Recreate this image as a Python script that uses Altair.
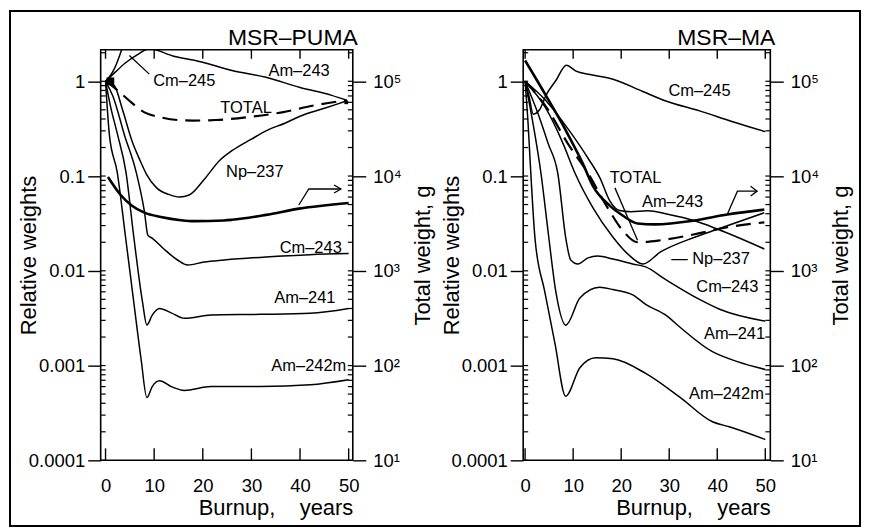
import altair as alt
import pandas as pd

FONT = "Liberation Sans"

# ---------------- MSR-PUMA (left panel) ----------------
P_TITLE = "MSR–PUMA"
P_AM243_T = [0, 2, 4, 6.5, 9, 14, 19.3, 26, 33, 40, 46.5, 49.6]
P_AM243_V = [1.0, 1.25, 1.55, 1.9, 2.2, 1.84, 1.62, 1.3, 1.1, 0.86, 0.71, 0.63]
P_CM245_T = [0, 1.0, 1.8, 2.6, 3.5, 4.5]
P_CM245_V = [1.0, 1.15, 1.35, 1.7, 2.3, 3.5]
P_NP237_T = [0, 1.8, 3.5, 5.5, 7, 8.4, 10.5, 13, 15.2, 17.2, 20.5, 23.4, 26, 30, 33, 37, 40, 44, 47, 49.6]
P_NP237_V = [1.0, 0.9, 0.5, 0.23, 0.15, 0.105, 0.075, 0.064, 0.06, 0.063, 0.095, 0.145, 0.185, 0.245,
             0.3, 0.363, 0.427, 0.5, 0.56, 0.62]
P_TOTAL_T = [0, 1, 2.5, 4.5, 8, 11, 14.8, 18, 22.7, 29.5, 36.3, 43.2, 49.6]
P_TOTAL_V = [1.0, 0.92, 0.8, 0.65, 0.47, 0.42, 0.39, 0.385, 0.39, 0.42, 0.47, 0.56, 0.63]
P_CM243_T = [0, 1.5, 3.9, 6.3, 8.0, 8.7, 9.7, 12, 14.8, 16.9, 20.3, 24.4, 33, 42, 50]
P_CM243_V = [1.0, 0.7, 0.27, 0.11, 0.042, 0.0238, 0.0219, 0.017, 0.013, 0.0115, 0.0124, 0.013,
             0.014, 0.0148, 0.0152]
P_AM241_T = [0, 1, 2.5, 4.2, 5.8, 7.6, 8.5, 9.6, 11.1, 13.5, 16.2, 21.7, 31.9, 42.1, 50]
P_AM241_V = [1.0, 0.55, 0.27, 0.11, 0.023, 0.0047, 0.00268, 0.0034, 0.0040, 0.0036, 0.00315,
             0.00342, 0.00347, 0.00356, 0.0040]
P_AM242M_T = [0, 0.8, 2.4, 4.1, 5.8, 7.3, 8.5, 9.6, 11.1, 13.5, 16.2, 21.7, 31.9, 42.1, 50]
P_AM242M_V = [1.0, 0.27, 0.11, 0.023, 0.0047, 0.00118, 0.00046, 0.0006, 0.00069, 0.0006, 0.000546,
              0.0006, 0.0006, 0.000626, 0.000708]
P_WEIGHT_T = [0.5, 2.9, 5.3, 8.0, 11.4, 15.5, 18.2, 24.4, 26, 33, 39.8, 50]
P_WEIGHT_G = [9770, 6510, 4920, 4110, 3700, 3420, 3340, 3400, 3450, 3890, 4530, 5200]

P_LABEL_TEXT = ["Cm–245", "Am–243", "TOTAL", "Np–237", "Cm–243", "Am–241", "Am–242m"]
P_LABEL_T = [16.2, 39.8, 28.9, 30.7, 42.2, 41.0, 41.8]
P_LABEL_V = [1.0, 1.27, 0.52, 0.11, 0.0175, 0.0051, 0.00098]

P_POINTER_T = [9.0, 4.9]
P_POINTER_V = [1.19, 1.87]
P_ARROW_T = [39.75, 41.8, 48.4]
P_ARROW_V = [0.0495, 0.073, 0.073]
P_HEAD_T = [47.0, 48.4, 47.0]
P_HEAD_V = [0.0804, 0.073, 0.0662]
P_MARK_T = [1.0, 49.5]
P_MARK_V = [1.0, 0.6]

# ---------------- MSR-MA (right panel) ----------------
M_TITLE = "MSR–MA"
M_CM245_T = [0, 0.8, 1.7, 3, 4.4, 6.4, 8.6, 10.6, 13.5, 18.3, 24.5, 29.3, 36.3, 43.2, 50]
M_CM245_V = [1.0, 0.7, 0.45, 0.5, 0.72, 1.02, 1.48, 1.28, 1.18, 1.05, 0.78, 0.62, 0.487, 0.374, 0.294]
M_AM243_T = [0, 4.4, 8.9, 13.1, 15.6, 17.6, 19.7, 22, 25.5, 29.7, 35.3, 40, 49.8]
M_AM243_V = [1.0, 0.62, 0.316, 0.154, 0.095, 0.055, 0.0432, 0.042, 0.043, 0.0395, 0.0337, 0.0276, 0.017]
M_TOTAL_T = [0, 4.4, 8.9, 13.1, 17.2, 20.3, 23.4, 28.2, 35.3, 42.1, 49.8]
M_TOTAL_V = [1.0, 0.535, 0.22, 0.107, 0.046, 0.0267, 0.02, 0.021, 0.0243, 0.0288, 0.0324]
M_NP237_T = [0, 4.4, 7.9, 10.4, 14.1, 18.3, 21.4, 24.5, 28.2, 35.3, 40, 49.8]
M_NP237_V = [1.0, 0.51, 0.22, 0.107, 0.0464, 0.0226, 0.015, 0.0118, 0.0158, 0.0226, 0.0274, 0.041]
M_CM243_T = [0, 2.7, 4.8, 6.8, 8.5, 9.5, 11, 13.1, 15.1, 18.3, 22.4, 25.1, 29.3, 36.3, 40.5, 50]
M_CM243_V = [1.0, 0.453, 0.22, 0.107, 0.0216, 0.013, 0.0118, 0.0137, 0.0143, 0.0133, 0.0118, 0.011,
             0.00806, 0.00499, 0.00393, 0.00294]
M_AM241_T = [0, 1.66, 3.3, 4.8, 6.4, 8.5, 11.4, 15.5, 18.3, 22.4, 25.1, 29.3, 32.2, 39, 44.2, 50]
M_AM241_V = [1.0, 0.356, 0.107, 0.0255, 0.006, 0.00267, 0.00515, 0.0067, 0.00634, 0.00558, 0.00442,
             0.0034, 0.00255, 0.0014, 0.0011, 0.00091]
M_AM242M_T = [0, 0.62, 1.24, 2.07, 4.09, 6.22, 8.44, 11.4, 14.7, 18.3, 25.1, 32.2, 39, 42.5, 50]
M_AM242M_V = [1.0, 0.356, 0.0954, 0.0216, 0.00604, 0.0017, 0.000475, 0.00095, 0.00121, 0.00118,
              0.000826, 0.000464, 0.000255, 0.000226, 0.000166]
M_WEIGHT_T = [0, 4.4, 8.5, 12, 14.1, 17.6, 20.3, 23.4, 27, 35.3, 42.1, 49.8]
M_WEIGHT_G = [165600, 69800, 30100, 13600, 7870, 4870, 3830, 3160, 3090, 3400, 3930, 4430]

M_LABEL_TEXT = ["Cm–245", "TOTAL", "Am–243", "— Np–237", "Cm–243", "Am–241", "Am–242m"]
M_LABEL_T = [36.3, 23.0, 30.7, 38.6, 42.1, 43.6, 41.9]
M_LABEL_V = [0.787, 0.0954, 0.0536, 0.0133, 0.0068, 0.00215, 0.0005]

M_POINTER_T = [18.7, 23.4]
M_POINTER_V = [0.075, 0.021]
M_ARROW_T = [42.1, 44.2, 48.3]
M_ARROW_V = [0.0395, 0.0693, 0.0693]
M_HEAD_T = [46.95, 48.3, 46.95]
M_HEAD_V = [0.0781, 0.0693, 0.0615]

# ---------------- axes ticks ----------------
X_TICKS = [0, 10, 20, 30, 40, 50]
REL_MAJOR = [0.0001, 0.001, 0.01, 0.1, 1]
G_MAJOR = [10, 100, 1000, 10000, 100000]
REL_MINOR = [k * 10.0 ** d for d in range(-4, 1) for k in range(1, 10) if k * 10.0 ** d <= 2.15]
G_MINOR = [k * 10.0 ** d for d in range(1, 6) for k in range(1, 10) if k * 10.0 ** d <= 2.15e5]

H = 412


def series_df(names, ts, vs):
    rows = []
    for n, t, v in zip(names, ts, vs):
        for a, b in zip(t, v):
            rows.append({"series": n, "t": a, "v": b})
    return pd.DataFrame(rows)


def path_df(paths):
    rows = []
    for g, (ts, vs) in enumerate(paths):
        for i, (a, b) in enumerate(zip(ts, vs)):
            rows.append({"grp": g, "i": i, "t": a, "v": b})
    return pd.DataFrame(rows)


def panel(title, W, xdom, thin, total, weight, labels, paths, markers=None, frame=False):
    xscale = alt.Scale(domain=xdom, nice=False, zero=False)
    xaxis = alt.Axis(values=X_TICKS, ticks=False, labelPadding=16, format="d", labelFlush=False,
                     labelFontSize=18.5, title="Burnup,\u00a0\u00a0\u00a0\u00a0years", titleFontSize=22,
                     titleFontWeight="normal", titleX=W, titleY=47, titleAlign="right",
                     titleBaseline="middle")
    X = alt.X("t:Q", scale=xscale, axis=xaxis)

    rel_scale = alt.Scale(type="log", domain=[1e-4, 2.15], nice=False)
    left_axis = alt.Axis(orient="left", values=REL_MAJOR, format=".4~f", tickSize=13, labelPadding=3,
                         labelFontSize=18.5, labelOverlap=False, title="Relative weights",
                         titleFontSize=22, titleFontWeight="normal", titleX=-72, titleY=H / 2,
                         titleAngle=270, titleAlign="center", titleBaseline="middle")

    def YR(f):
        return alt.Y(f"{f}:Q", scale=rel_scale, axis=left_axis)

    g_scale = alt.Scale(type="log", domain=[10, 2.15e5], nice=False)
    right_axis = alt.Axis(orient="right", values=G_MAJOR,
                          labelExpr="'10' + ['⁰','¹','²','³','⁴','⁵'][round(log(datum.value)/LN10)]",
                          tickSize=13, labelPadding=7, labelFontSize=18.5, labelOverlap=False,
                          title="Total weight, g", titleFontSize=22, titleFontWeight="normal",
                          titleX=70, titleY=H / 2, titleAngle=270, titleAlign="center",
                          titleBaseline="middle")

    def YG(f):
        return alt.Y(f"{f}:Q", scale=g_scale, axis=right_axis)

    thin_l = alt.Chart(thin).mark_line(color="black", strokeWidth=1.5, interpolate="monotone",
                                       clip=True).encode(x=X, y=YR("v"), detail="series:N")
    dash_l = alt.Chart(total).mark_line(color="black", strokeWidth=2.2, strokeDash=[15, 8],
                                        interpolate="monotone", clip=True).encode(x=X, y=YR("v"))
    text_l = alt.Chart(labels).mark_text(font=FONT, fontSize=16.5, color="black", align="center",
                                         baseline="middle").encode(x=X, y=YR("v"), text="label:N")
    ann_l = alt.Chart(paths).mark_line(color="black", strokeWidth=1.3).encode(
        x=X, y=YR("v"), detail="grp:N", order="i:Q")
    xt_df = pd.DataFrame({"t": X_TICKS})
    xb = alt.Chart(xt_df).mark_rule(color="black", strokeWidth=1.4).encode(
        x=X, y=alt.value(H), y2=alt.value(H - 12))
    xtop = alt.Chart(xt_df).mark_rule(color="black", strokeWidth=1.4).encode(
        x=X, y=alt.value(0), y2=alt.value(9))
    lmin = alt.Chart(pd.DataFrame({"v": REL_MINOR})).mark_rule(color="black", strokeWidth=1.2).encode(
        y=YR("v"), x=alt.value(0), x2=alt.value(5))
    ttl = alt.Chart(pd.DataFrame({"label": [title]})).mark_text(
        font=FONT, fontSize=23, color="black", align="right", baseline="alphabetic").encode(
        text="label:N", x=alt.value(W + 5), y=alt.value(-5))
    layers_a = [thin_l, dash_l, text_l, ann_l, xb, xtop, lmin, ttl]
    if markers is not None:
        big = alt.Chart(markers.iloc[[0]]).mark_square(color="black", size=60, opacity=1).encode(
            x=X, y=YR("v"))
        small = alt.Chart(markers.iloc[[1]]).mark_square(color="black", size=14, opacity=1).encode(
            x=X, y=YR("v"))
        layers_a += [big, small]
    if frame:
        fr = alt.Chart(pd.DataFrame({"f": [0]})).mark_rect(
            fillOpacity=0, stroke="black", strokeWidth=2).encode(
            x=alt.value(-91), x2=alt.value(762), y=alt.value(-39), y2=alt.value(478))
        layers_a.append(fr)
    layer_a = alt.layer(*layers_a)

    w_l = alt.Chart(weight).mark_line(color="black", strokeWidth=2.6, interpolate="monotone",
                                      clip=True).encode(x=X, y=YG("g"))
    rmin = alt.Chart(pd.DataFrame({"g": G_MINOR})).mark_rule(color="black", strokeWidth=1.2).encode(
        y=YG("g"), x=alt.value(W - 5), x2=alt.value(W))
    layer_b = alt.layer(w_l, rmin)

    return alt.layer(layer_a, layer_b).resolve_scale(y="independent").properties(width=W, height=H)


# ----- left panel data
p_thin = series_df(["Am-243", "Cm-245", "Np-237", "Cm-243", "Am-241", "Am-242m"],
                   [P_AM243_T, P_CM245_T, P_NP237_T, P_CM243_T, P_AM241_T, P_AM242M_T],
                   [P_AM243_V, P_CM245_V, P_NP237_V, P_CM243_V, P_AM241_V, P_AM242M_V])
p_total = pd.DataFrame({"t": P_TOTAL_T, "v": P_TOTAL_V})
p_weight = pd.DataFrame({"t": P_WEIGHT_T, "g": P_WEIGHT_G})
p_labels = pd.DataFrame({"label": P_LABEL_TEXT, "t": P_LABEL_T, "v": P_LABEL_V})
p_paths = path_df([(P_POINTER_T, P_POINTER_V), (P_ARROW_T, P_ARROW_V), (P_HEAD_T, P_HEAD_V)])
p_marks = pd.DataFrame({"t": P_MARK_T, "v": P_MARK_V})

# ----- right panel data
m_thin = series_df(["Cm-245", "Am-243", "Np-237", "Cm-243", "Am-241", "Am-242m"],
                   [M_CM245_T, M_AM243_T, M_NP237_T, M_CM243_T, M_AM241_T, M_AM242M_T],
                   [M_CM245_V, M_AM243_V, M_NP237_V, M_CM243_V, M_AM241_V, M_AM242M_V])
m_total = pd.DataFrame({"t": M_TOTAL_T, "v": M_TOTAL_V})
m_weight = pd.DataFrame({"t": M_WEIGHT_T, "g": M_WEIGHT_G})
m_labels = pd.DataFrame({"label": M_LABEL_TEXT, "t": M_LABEL_T, "v": M_LABEL_V})
m_paths = path_df([(M_POINTER_T, M_POINTER_V), (M_ARROW_T, M_ARROW_V), (M_HEAD_T, M_HEAD_V)])

left = panel(P_TITLE, 253, [-1.0, 50.85], p_thin, p_total, p_weight, p_labels, p_paths,
             markers=p_marks, frame=True)
right = panel(M_TITLE, 248, [-0.4, 51.05], m_thin, m_total, m_weight, m_labels, m_paths)

chart = alt.hconcat(left, right, spacing=171, bounds="flush").properties(
    padding={"left": 0, "top": 0, "right": 0, "bottom": 0}, background="white"
).configure_view(stroke="black", strokeWidth=1.6).configure_axis(
    labelFont=FONT, titleFont=FONT, labelColor="black", titleColor="black", tickColor="black",
    tickWidth=1.4, grid=False, domain=False)

chart.save("out.html", embed_options={"renderer": "svg", "actions": False})
